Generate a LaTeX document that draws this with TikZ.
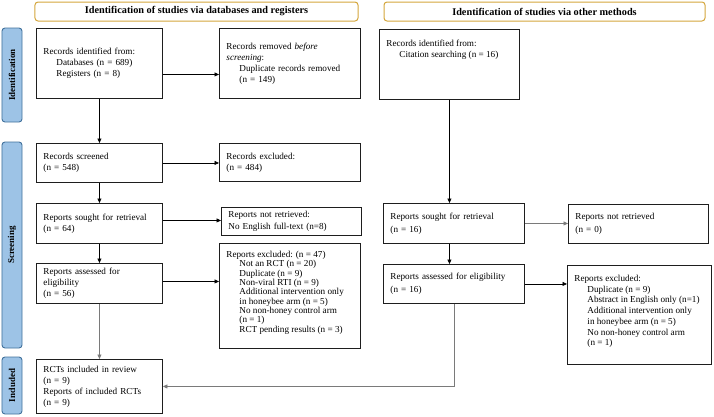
\documentclass[tikz,border=0pt]{standalone}
\usepackage{fontspec}
\setmainfont{Liberation Serif}
\usetikzlibrary{arrows.meta}
\definecolor{boxline}{HTML}{1E1E1E}
\definecolor{gold}{HTML}{D4A63C}
\definecolor{sidefill}{HTML}{9DC3E6}
\definecolor{sideline}{HTML}{41719C}
\definecolor{arrgray}{HTML}{7A7A7A}
\newcommand\myind{\hspace*{13bp}}
\begin{document}
\begin{tikzpicture}[x=1bp,y=-1bp,
 bx/.style={draw=boxline, line width=0.9bp, fill=white, align=left, inner xsep=7bp, inner ysep=2bp, anchor=north west, font=\fontsize{9.2}{11}\selectfont},
 hdr/.style={draw=gold, line width=1bp, rounded corners=3bp, fill=white, font=\fontsize{10.3}{11}\selectfont\bfseries, inner sep=0pt},
 side/.style={draw=sideline, line width=0.9bp, fill=sidefill, rounded corners=3bp, rotate=90, font=\fontsize{9}{10}\selectfont\bfseries, inner sep=0pt, minimum height=20bp},
 arr/.style={draw=black, line width=0.7bp, -{Triangle[length=4.5bp,width=4bp]}},
]
\useasboundingbox (0,0) rectangle (714,416);

% headers
\node[hdr, minimum width=323bp, minimum height=19bp] (HL) at (196.5,11.5) {Identification of studies via databases and registers};
\node[hdr, minimum width=321bp, minimum height=19bp] (HR) at (544.5,11.5) {Identification of studies via other methods};

% side labels
\node[side, minimum width=94bp] (SI) at (12,75) {Identification};
\node[side, minimum width=206bp] (SS) at (12,245) {Screening};
\node[side, minimum width=57bp] (SN) at (12,385.5) {Included};

% left column
\node[bx, text width=112bp, minimum height=70bp] (A) at (36,28)
 {Records identified from:\\\myind Databases (n = 689)\\\myind Registers (n = 8)};
\node[bx, text width=127bp, minimum height=70bp] (B) at (219,28)
 {Records removed \textit{before}\\\textit{screening}:\\\myind Duplicate records removed\\\myind (n = 149)};
\node[bx, text width=112bp, minimum height=39bp] (D) at (36,143)
 {Records screened\\(n = 548)};
\node[bx, text width=127bp, minimum height=38bp] (E) at (219,143)
 {Records excluded:\\(n = 484)};
\node[bx, text width=112bp, minimum height=40bp] (F) at (36,203)
 {Reports sought for retrieval\\(n = 64)};
\node[bx, text width=126bp, minimum height=28bp, font=\fontsize{9.2}{12}\selectfont] (G) at (221,207)
 {Reports not retrieved:\\No English full-text (n=8)};
\node[bx, text width=112bp, minimum height=40bp] (H) at (36,263)
 {Reports assessed for\\eligibility\\(n = 56)};
\node[bx, inner ysep=7.5bp, font=\fontsize{9.2}{9.4}\selectfont] (I) at (219,243)
 {\parbox[c][90bp][t]{127bp}{\raggedright Reports excluded: (n = 47)\\\myind Not an RCT (n = 20)\\\myind Duplicate (n = 9)\\\myind Non-viral RTI (n = 9)\\\myind Additional intervention only\\\myind in honeybee arm (n = 5)\\\myind No non-honey control arm\\\myind (n = 1)\\\myind RCT pending results (n = 3)}};
\node[bx, text width=112bp, minimum height=54bp] (J) at (36,359)
 {RCTs included in review\\(n = 9)\\Reports of included RCTs\\(n = 9)};

% right column
\node[bx, inner ysep=10.5bp] (C) at (379,29)
 {\parbox[c][49bp][t]{126bp}{\raggedright Records identified from:\\\myind Citation searching (n = 16)}};
\node[bx, text width=127bp, minimum height=40bp, font=\fontsize{9.2}{13}\selectfont] (K) at (383,203)
 {Reports sought for retrieval\\(n = 16)};
\node[bx, text width=126bp, minimum height=39bp, font=\fontsize{9.2}{13}\selectfont] (L) at (568,204)
 {Reports not retrieved\\(n = 0)};
\node[bx, text width=127bp, minimum height=39bp, font=\fontsize{9.2}{13}\selectfont] (M) at (383,264)
 {Reports assessed for eligibility\\(n = 16)};
\node[bx, inner ysep=9.5bp, font=\fontsize{9.2}{10.8}\selectfont] (N) at (567,265)
 {\parbox[c][80bp][t]{130bp}{\raggedright Reports excluded:\\\myind Duplicate (n = 9)\\\myind Abstract in English only (n=1)\\\myind Additional intervention only\\\myind in honeybee arm (n = 5)\\\myind No non-honey control arm\\\myind (n = 1)}};

% connectors
\draw[arr] ([yshift=-11bp]A.east) -- ([yshift=-11bp]A.east -| B.west);
\draw[arr] (A.south) -- (D.north);
\draw[arr] (D.east) -- (D.east -| E.west);
\draw[arr] (D.south) -- (F.north);
\draw[arr] ([yshift=3bp]F.east) -- ([yshift=3bp]F.east -| G.west);
\draw[arr] (F.south) -- (H.north);
\draw[arr] ([yshift=2bp]H.east) -- ([yshift=2bp]H.east -| I.west);
\draw[arr, draw=arrgray] (H.south) -- (J.north);
\draw[arr] (C.south) -- (C.south |- K.north);
\draw[arr, draw=arrgray] (K.east) -- (K.east -| L.west);
\draw[arr] (K.south -| C.south) -- (C.south |- M.north);
\draw[arr] (M.east) -- (M.east -| N.west);
\draw[arr, draw=arrgray] (M.south) -- (M.south |- J.east) -- (J.east);
\end{tikzpicture}
\end{document}
